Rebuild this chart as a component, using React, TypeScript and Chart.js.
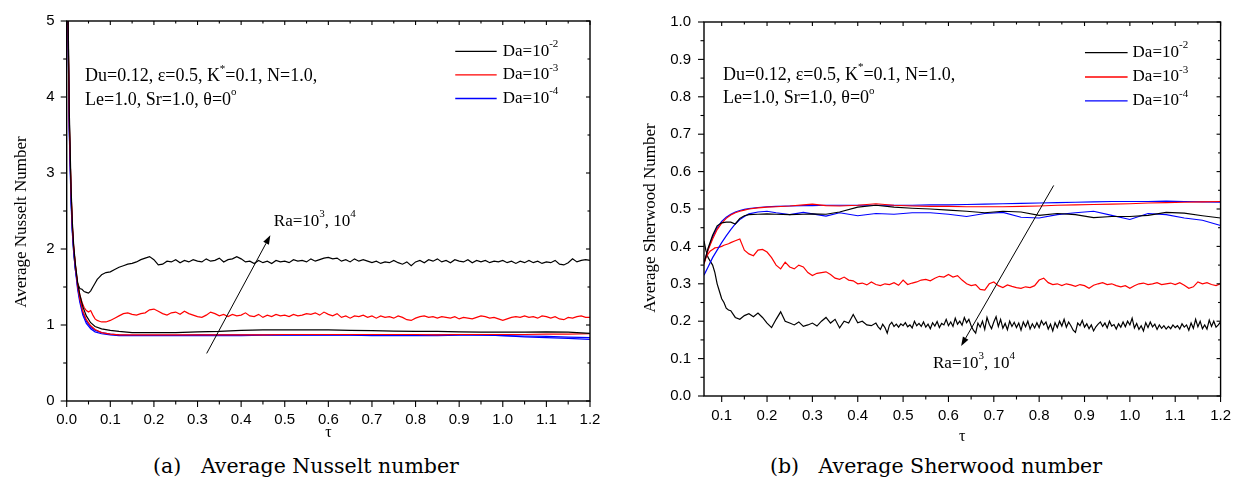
import React, { useEffect, useRef } from 'react';
import { Chart, registerables } from 'chart.js';
Chart.register(...registerables);

// ===================== Panel (a): Average Nusselt number =====================
const NU_T_FINE = [
  0, 0.003, 0.006, 0.01, 0.013, 0.016, 0.02, 0.025, 0.03, 0.035, 0.04, 0.045, 0.05, 0.055, 0.06, 0.065, 0.07, 0.075, 0.08, 0.09, 0.1,
  0.11, 0.12, 0.13, 0.14, 0.15, 0.16, 0.17, 0.18, 0.19, 0.2,
  0.21, 0.22, 0.23, 0.24, 0.25, 0.26, 0.27, 0.28, 0.29, 0.3,
  0.31, 0.32, 0.33, 0.34, 0.35, 0.36, 0.37, 0.38, 0.39, 0.4,
  0.41, 0.42, 0.43, 0.44, 0.45, 0.46, 0.47, 0.48, 0.49, 0.5,
  0.51, 0.52, 0.53, 0.54, 0.55, 0.56, 0.57, 0.58, 0.59, 0.6,
  0.61, 0.62, 0.63, 0.64, 0.65, 0.66, 0.67, 0.68, 0.69, 0.7,
  0.71, 0.72, 0.73, 0.74, 0.75, 0.76, 0.77, 0.78, 0.79, 0.8,
  0.81, 0.82, 0.83, 0.84, 0.85, 0.86, 0.87, 0.88, 0.89, 0.9,
  0.91, 0.92, 0.93, 0.94, 0.95, 0.96, 0.97, 0.98, 0.99, 1.0,
  1.01, 1.02, 1.03, 1.04, 1.05, 1.06, 1.07, 1.08, 1.09, 1.1,
  1.11, 1.12, 1.13, 1.14, 1.15, 1.16, 1.17, 1.18, 1.19, 1.2,
];
// Da=10^-2, Ra=10^4 (black, upper)
const NU_DA2_RA4 = [
  6.5, 5.1, 3.7, 2.7, 2.25, 1.95, 1.72, 1.55, 1.48, 1.47, 1.44, 1.43, 1.42, 1.45, 1.5, 1.55, 1.6, 1.63, 1.66, 1.69, 1.7,
  1.73, 1.76, 1.78, 1.8, 1.81, 1.83, 1.86, 1.88, 1.9, 1.86,
  1.79, 1.8, 1.84, 1.83, 1.86, 1.82, 1.85, 1.83, 1.86, 1.84,
  1.83, 1.87, 1.84, 1.85, 1.88, 1.83, 1.86, 1.87, 1.9, 1.87,
  1.83, 1.84, 1.81, 1.85, 1.82, 1.84, 1.81, 1.85, 1.83, 1.84,
  1.82, 1.86, 1.84, 1.85, 1.83, 1.87, 1.84, 1.86, 1.88, 1.89,
  1.87, 1.88, 1.84, 1.86, 1.83, 1.87, 1.84, 1.86, 1.84, 1.82,
  1.84, 1.81, 1.83, 1.82, 1.85, 1.82, 1.8, 1.83, 1.78, 1.83,
  1.85, 1.82, 1.86, 1.84, 1.87, 1.83, 1.85, 1.82, 1.86, 1.84,
  1.83, 1.86, 1.82, 1.85, 1.83, 1.85, 1.82, 1.84, 1.83, 1.85,
  1.82, 1.84, 1.81, 1.84, 1.82, 1.85, 1.82, 1.84, 1.81, 1.83,
  1.82, 1.85, 1.8, 1.79, 1.82, 1.87, 1.83, 1.85, 1.86, 1.85,
];
// Da=10^-3, Ra=10^4 (red, upper)
const NU_DA3_RA4 = [
  6.5, 5.0, 3.6, 2.75, 2.3, 2.02, 1.78, 1.55, 1.4, 1.3, 1.23, 1.19, 1.17, 1.19, 1.13, 1.08, 1.06, 1.05, 1.04, 1.04, 1.06,
  1.09, 1.12, 1.15, 1.16, 1.14, 1.13, 1.15, 1.16, 1.2, 1.21,
  1.18, 1.15, 1.13, 1.16, 1.17, 1.14, 1.18, 1.15, 1.13, 1.11,
  1.1, 1.13, 1.17, 1.15, 1.12, 1.14, 1.11, 1.14, 1.12, 1.13,
  1.16, 1.12, 1.11, 1.14, 1.1, 1.13, 1.11, 1.14, 1.12, 1.13,
  1.11, 1.14, 1.12, 1.13, 1.15, 1.14, 1.16, 1.13, 1.17, 1.14,
  1.12, 1.15, 1.1, 1.12, 1.09, 1.12, 1.11, 1.13, 1.1, 1.12,
  1.09, 1.12, 1.1, 1.11, 1.09, 1.12, 1.1, 1.07, 1.06, 1.09,
  1.11, 1.12, 1.1, 1.11, 1.09, 1.11, 1.1, 1.09, 1.11, 1.08,
  1.1, 1.09, 1.08, 1.1, 1.12, 1.11, 1.09, 1.1, 1.08, 1.06,
  1.08, 1.1, 1.11, 1.1, 1.12, 1.1, 1.11, 1.09, 1.12, 1.11,
  1.09, 1.11, 1.08, 1.07, 1.1, 1.09, 1.11, 1.12, 1.1, 1.1,
];
const NU_T_SMOOTH = [
  0, 0.003, 0.006, 0.01, 0.013, 0.016, 0.02, 0.025, 0.03, 0.037,
  0.045, 0.055, 0.065, 0.08, 0.1, 0.12, 0.15, 0.2, 0.25, 0.3,
  0.35, 0.4, 0.45, 0.5, 0.55, 0.6, 0.65, 0.7, 0.75, 0.8,
  0.85, 0.9, 0.95, 1.0, 1.05, 1.1, 1.15, 1.2,
];
// Da=10^-2, Ra=10^3 (black, lower)
const NU_DA2_RA3 = [
  6.5, 5.2, 3.8, 2.8, 2.35, 2.05, 1.8, 1.56, 1.4, 1.24,
  1.12, 1.03, 0.98, 0.95, 0.93, 0.915, 0.9, 0.9, 0.9, 0.91,
  0.915, 0.93, 0.935, 0.935, 0.935, 0.935, 0.93, 0.925, 0.92, 0.915,
  0.915, 0.91, 0.905, 0.905, 0.905, 0.91, 0.905, 0.89,
];
// Da=10^-3, Ra=10^3 (red, lower)
const NU_DA3_RA3 = [
  6.5, 5.0, 3.65, 2.75, 2.3, 2.02, 1.78, 1.52, 1.35, 1.18,
  1.07, 0.99, 0.94, 0.9, 0.88, 0.87, 0.87, 0.87, 0.87, 0.87,
  0.87, 0.87, 0.87, 0.875, 0.875, 0.875, 0.875, 0.875, 0.875, 0.875,
  0.87, 0.875, 0.875, 0.875, 0.875, 0.88, 0.88, 0.885,
];
// Da=10^-4, Ra=10^3 (blue)
const NU_DA4_RA3 = [
  6.5, 4.9, 3.5, 2.6, 2.2, 1.96, 1.72, 1.47, 1.3, 1.13,
  1.02, 0.95, 0.91, 0.885, 0.87, 0.86, 0.86, 0.86, 0.86, 0.86,
  0.86, 0.86, 0.865, 0.865, 0.865, 0.865, 0.865, 0.86, 0.86, 0.86,
  0.86, 0.865, 0.87, 0.86, 0.855, 0.85, 0.84, 0.835,
];
// Da=10^-4, Ra=10^4 (blue)
const NU_DA4_RA4 = [
  6.5, 4.9, 3.55, 2.65, 2.25, 2.0, 1.75, 1.5, 1.33, 1.16,
  1.05, 0.97, 0.93, 0.9, 0.88, 0.87, 0.865, 0.865, 0.865, 0.87,
  0.87, 0.87, 0.87, 0.87, 0.87, 0.87, 0.87, 0.87, 0.865, 0.865,
  0.87, 0.875, 0.87, 0.86, 0.845, 0.835, 0.825, 0.81,
];
const NU_X_TICKS = [0, 0.1, 0.2, 0.3, 0.4, 0.5, 0.6, 0.7, 0.8, 0.9, 1.0, 1.1, 1.2];
const NU_X_MINOR = [0.05, 0.15, 0.25, 0.35, 0.45, 0.55, 0.65, 0.75, 0.85, 0.95, 1.05, 1.15];
const NU_Y_TICKS = [0, 1, 2, 3, 4, 5];
const NU_Y_MINOR = [0.5, 1.5, 2.5, 3.5, 4.5];

// ===================== Panel (b): Average Sherwood number =====================
const SH_T_BLACK = [
  0.061, 0.065, 0.07, 0.075, 0.08, 0.085, 0.09, 0.095, 0.1, 0.105, 0.11, 0.115, 0.12,
  0.13, 0.14, 0.15, 0.16, 0.17, 0.18, 0.19, 0.2,
  0.21, 0.22, 0.23, 0.24, 0.25, 0.26, 0.27, 0.28, 0.29, 0.3,
  0.31, 0.32, 0.33, 0.34, 0.35, 0.36, 0.37, 0.38, 0.39, 0.4,
  0.41, 0.42, 0.43, 0.44,
  0.445, 0.45, 0.455, 0.46, 0.465, 0.47, 0.475, 0.48, 0.485, 0.49,
  0.495, 0.5, 0.505, 0.51, 0.515, 0.52, 0.525, 0.53, 0.535, 0.54,
  0.545, 0.55, 0.555, 0.56, 0.565, 0.57, 0.575, 0.58, 0.585, 0.59,
  0.595, 0.6, 0.605, 0.61, 0.615, 0.62, 0.625, 0.63, 0.635, 0.64,
  0.645, 0.65, 0.655, 0.66, 0.665, 0.67, 0.675, 0.68, 0.685, 0.69,
  0.695, 0.7, 0.705, 0.71, 0.715, 0.72, 0.725, 0.73, 0.735, 0.74,
  0.745, 0.75, 0.755, 0.76, 0.765, 0.77, 0.775, 0.78, 0.785, 0.79,
  0.795, 0.8, 0.805, 0.81, 0.815, 0.82, 0.825, 0.83, 0.835, 0.84,
  0.845, 0.85, 0.855, 0.86, 0.865, 0.87, 0.875, 0.88, 0.885, 0.89,
  0.895, 0.9, 0.905, 0.91, 0.915, 0.92, 0.925, 0.93, 0.935, 0.94,
  0.945, 0.95, 0.955, 0.96, 0.965, 0.97, 0.975, 0.98, 0.985, 0.99,
  0.995, 1.0, 1.005, 1.01, 1.015, 1.02, 1.025, 1.03, 1.035, 1.04,
  1.045, 1.05, 1.055, 1.06, 1.065, 1.07, 1.075, 1.08, 1.085, 1.09,
  1.095, 1.1, 1.105, 1.11, 1.115, 1.12, 1.125, 1.13, 1.135, 1.14,
  1.145, 1.15, 1.155, 1.16, 1.165, 1.17, 1.175, 1.18, 1.185, 1.19,
  1.195, 1.2,
];
// Da=10^-2, Ra=10^4 (black, lower)
const SH_DA2_RA4 = [
  0.415, 0.39, 0.37, 0.36, 0.35, 0.33, 0.3, 0.28, 0.26, 0.25, 0.235, 0.23, 0.228,
  0.21, 0.205, 0.215, 0.22, 0.212, 0.222, 0.21, 0.195,
  0.183, 0.205, 0.225, 0.2, 0.195, 0.19, 0.198, 0.186, 0.19, 0.195,
  0.187, 0.2, 0.21, 0.195, 0.205, 0.182, 0.2, 0.195, 0.218, 0.196,
  0.2, 0.19, 0.188, 0.195,
  0.185, 0.178, 0.192, 0.183, 0.168, 0.19, 0.197, 0.186, 0.192, 0.184,
  0.193, 0.188, 0.196, 0.185, 0.19, 0.182, 0.2, 0.188, 0.194, 0.186,
  0.198, 0.184, 0.192, 0.18, 0.196, 0.187, 0.199, 0.183, 0.194, 0.19,
  0.205, 0.188, 0.198, 0.186, 0.208, 0.192, 0.2, 0.189, 0.21, 0.196,
  0.205, 0.188, 0.176, 0.168, 0.195, 0.184, 0.2, 0.178, 0.21, 0.192,
  0.18, 0.198, 0.212, 0.186, 0.205, 0.181, 0.194, 0.177, 0.2, 0.186,
  0.197, 0.183, 0.195, 0.176, 0.198, 0.185, 0.2, 0.179, 0.193, 0.182,
  0.196, 0.183, 0.201, 0.19, 0.198, 0.179, 0.192, 0.174, 0.196, 0.183,
  0.2, 0.187, 0.205, 0.184, 0.198, 0.188, 0.176, 0.17, 0.195, 0.188,
  0.202, 0.184, 0.193, 0.18, 0.19, 0.174, 0.185, 0.192, 0.198, 0.186,
  0.195, 0.182, 0.2, 0.187, 0.191, 0.179, 0.193, 0.184, 0.198, 0.185,
  0.2, 0.19, 0.208, 0.182, 0.194, 0.178, 0.188, 0.174, 0.196, 0.183,
  0.198, 0.185, 0.192, 0.178, 0.19, 0.181, 0.188, 0.179, 0.186, 0.18,
  0.19, 0.183, 0.188, 0.179, 0.193, 0.184, 0.19, 0.176, 0.195, 0.181,
  0.205, 0.185, 0.2, 0.18, 0.19, 0.179, 0.203, 0.186, 0.2, 0.184,
  0.19, 0.198,
];
const SH_T_FINE = [
  0.061, 0.065, 0.07, 0.075, 0.08, 0.085, 0.09, 0.095, 0.1, 0.105, 0.11, 0.115, 0.12,
  0.13, 0.14, 0.15, 0.16, 0.17, 0.18, 0.19, 0.2,
  0.21, 0.22, 0.23, 0.24, 0.25, 0.26, 0.27, 0.28, 0.29, 0.3,
  0.31, 0.32, 0.33, 0.34, 0.35, 0.36, 0.37, 0.38, 0.39, 0.4,
  0.41, 0.42, 0.43, 0.44, 0.45, 0.46, 0.47, 0.48, 0.49, 0.5,
  0.51, 0.52, 0.53, 0.54, 0.55, 0.56, 0.57, 0.58, 0.59, 0.6,
  0.61, 0.62, 0.63, 0.64, 0.65, 0.66, 0.67, 0.68, 0.69, 0.7,
  0.71, 0.72, 0.73, 0.74, 0.75, 0.76, 0.77, 0.78, 0.79, 0.8,
  0.81, 0.82, 0.83, 0.84, 0.85, 0.86, 0.87, 0.88, 0.89, 0.9,
  0.91, 0.92, 0.93, 0.94, 0.95, 0.96, 0.97, 0.98, 0.99, 1.0,
  1.01, 1.02, 1.03, 1.04, 1.05, 1.06, 1.07, 1.08, 1.09, 1.1,
  1.11, 1.12, 1.13, 1.14, 1.15, 1.16, 1.17, 1.18, 1.19, 1.2,
];
// Da=10^-3, Ra=10^4 (red, lower)
const SH_DA3_RA4 = [
  0.358, 0.37, 0.38, 0.388, 0.392, 0.396, 0.397, 0.398, 0.4, 0.403, 0.405, 0.407, 0.41,
  0.415, 0.42, 0.39, 0.38, 0.375, 0.39, 0.392, 0.385,
  0.37, 0.35, 0.34, 0.358, 0.345, 0.34, 0.35, 0.345, 0.33, 0.322,
  0.328, 0.33, 0.332, 0.325, 0.315, 0.312, 0.318, 0.31, 0.308, 0.3,
  0.302, 0.297, 0.305, 0.298, 0.295, 0.3, 0.298, 0.303, 0.296, 0.31,
  0.298, 0.302, 0.305, 0.31, 0.312, 0.308, 0.315, 0.32, 0.318, 0.325,
  0.318, 0.322, 0.31, 0.3, 0.295, 0.298, 0.285, 0.283, 0.3, 0.305,
  0.295, 0.29, 0.297, 0.293, 0.29, 0.288, 0.292, 0.29, 0.295, 0.31,
  0.315, 0.303, 0.298, 0.3, 0.295, 0.3, 0.297, 0.293, 0.298, 0.295,
  0.288, 0.296, 0.3, 0.303, 0.298, 0.3, 0.295, 0.292, 0.295, 0.288,
  0.295, 0.3, 0.302, 0.298, 0.3, 0.303, 0.298, 0.3, 0.302, 0.298,
  0.303, 0.296, 0.288, 0.292, 0.305, 0.3, 0.303, 0.298, 0.295, 0.3,
];
const SH_T_SMOOTH = [
  0.061, 0.07, 0.08, 0.09, 0.1, 0.11, 0.12, 0.13, 0.14, 0.15,
  0.16, 0.18, 0.2, 0.22, 0.25, 0.28, 0.3, 0.33, 0.36, 0.4,
  0.44, 0.48, 0.52, 0.56, 0.6, 0.64, 0.68, 0.72, 0.76, 0.8,
  0.84, 0.88, 0.92, 0.96, 1.0, 1.04, 1.08, 1.12, 1.16, 1.2,
];
// Da=10^-2, Ra=10^3 (black, upper)
const SH_DA2_RA3 = [
  0.355, 0.395, 0.43, 0.455, 0.463, 0.465, 0.465, 0.46, 0.475, 0.482,
  0.485, 0.486, 0.487, 0.486, 0.485, 0.486, 0.487, 0.486, 0.492, 0.505,
  0.51, 0.505, 0.502, 0.5, 0.497, 0.494, 0.49, 0.494, 0.492, 0.483,
  0.488, 0.485, 0.477, 0.48, 0.48, 0.483, 0.491, 0.489, 0.482, 0.476,
];
// Da=10^-3, Ra=10^3 (red, upper)
const SH_DA3_RA3 = [
  0.352, 0.39, 0.42, 0.445, 0.462, 0.475, 0.484, 0.49, 0.494, 0.497,
  0.5, 0.503, 0.505, 0.506, 0.508, 0.511, 0.513, 0.509, 0.508, 0.51,
  0.514, 0.51, 0.508, 0.507, 0.507, 0.506, 0.506, 0.506, 0.507, 0.508,
  0.51, 0.511, 0.512, 0.513, 0.514, 0.516, 0.517, 0.518, 0.519, 0.52,
];
// Da=10^-4, Ra=10^3 (blue, upper)
const SH_DA4_RA3 = [
  0.355, 0.392, 0.425, 0.45, 0.467, 0.478, 0.486, 0.492, 0.496, 0.499,
  0.501, 0.504, 0.506, 0.507, 0.508, 0.509, 0.509, 0.51, 0.51, 0.51,
  0.51, 0.51, 0.51, 0.511, 0.511, 0.512, 0.513, 0.514, 0.515, 0.516,
  0.517, 0.518, 0.519, 0.52, 0.52, 0.52, 0.521, 0.52, 0.519, 0.518,
];
// Da=10^-4, Ra=10^4 (blue, lower)
const SH_DA4_RA4 = [
  0.323, 0.345, 0.37, 0.39, 0.41, 0.428, 0.445, 0.46, 0.472, 0.48,
  0.487, 0.492, 0.494, 0.49, 0.485, 0.491, 0.487, 0.481, 0.49, 0.482,
  0.488, 0.486, 0.49, 0.49, 0.486, 0.48, 0.488, 0.491, 0.478, 0.476,
  0.485, 0.49, 0.494, 0.483, 0.472, 0.488, 0.485, 0.476, 0.47, 0.456,
];
const SH_X_TICKS = [0.1, 0.2, 0.3, 0.4, 0.5, 0.6, 0.7, 0.8, 0.9, 1.0, 1.1, 1.2];
const SH_X_MINOR = [0.15, 0.25, 0.35, 0.45, 0.55, 0.65, 0.75, 0.85, 0.95, 1.05, 1.15];
const SH_Y_TICKS = [0, 0.1, 0.2, 0.3, 0.4, 0.5, 0.6, 0.7, 0.8, 0.9, 1.0];
const SH_Y_MINOR = [0.05, 0.15, 0.25, 0.35, 0.45, 0.55, 0.65, 0.75, 0.85, 0.95];

// Legend / annotation text
const LEGEND_LABELS = [
  [{ t: 'Da=10' }, { t: '-2', sup: true }],
  [{ t: 'Da=10' }, { t: '-3', sup: true }],
  [{ t: 'Da=10' }, { t: '-4', sup: true }],
];
const LEGEND_COLORS = ['#000000', '#ff0000', '#0000ff'];
const PARAM_LINES = [
  [{ t: 'Du=0.12, ε=0.5, K' }, { t: '*', sup: true }, { t: '=0.1, N=1.0,' }],
  [{ t: 'Le=1.0, Sr=1.0, θ=0' }, { t: 'o', sup: true }],
];
const RA_LABEL = [{ t: 'Ra=10' }, { t: '3', sup: true }, { t: ', 10' }, { t: '4', sup: true }];

type Part = { t: string; sup?: boolean };

const SERIF = '"Liberation Serif", "Times New Roman", serif';
const SANS = '"Liberation Sans", Arial, sans-serif';

function drawRich(ctx: CanvasRenderingContext2D, parts: Part[], x: number, y: number, size: number) {
  let cx = x;
  ctx.textAlign = 'left';
  ctx.textBaseline = 'middle';
  for (const p of parts) {
    const s = p.sup ? Math.round(size * 0.62) : size;
    ctx.font = `${s}px ${SERIF}`;
    ctx.fillText(p.t, cx, p.sup ? y - size * 0.42 : y);
    cx += ctx.measureText(p.t).width;
  }
}

type Spec = {
  xMin: number; xMax: number; yMin: number; yMax: number;
  xTicks: number[]; xMinor: number[]; yTicks: number[]; yMinor: number[];
  yDigits: number;
  series: { t: number[]; v: number[]; color: string }[];
  yTitle: string; yTitleX: number; yTitleY: number; tauY: number;
  padding: { left: number; top: number; right: number; bottom: number };
  yWidth: number; xHeight: number; xPad: number; yPad: number;
  paramX: number; paramY: number[];
  legX: number[]; legY: number[];
  raX: number; raY: number;
  arrow: number[];
};

const NU_SPEC: Spec = {
  xMin: 0, xMax: 1.2, yMin: 0, yMax: 5,
  xTicks: NU_X_TICKS, xMinor: NU_X_MINOR, yTicks: NU_Y_TICKS, yMinor: NU_Y_MINOR,
  yDigits: 0,
  series: [
    { t: NU_T_SMOOTH, v: NU_DA2_RA3, color: '#000000' },
    { t: NU_T_SMOOTH, v: NU_DA3_RA3, color: '#ff0000' },
    { t: NU_T_SMOOTH, v: NU_DA4_RA3, color: '#0000ff' },
    { t: NU_T_SMOOTH, v: NU_DA4_RA4, color: '#0000ff' },
    { t: NU_T_FINE, v: NU_DA3_RA4, color: '#ff0000' },
    { t: NU_T_FINE, v: NU_DA2_RA4, color: '#000000' },
  ],
  yTitle: 'Average Nusselt Number', yTitleX: 22, yTitleY: 222, tauY: 433,
  padding: { left: 0, top: 16.5, right: 31, bottom: 0 },
  yWidth: 66.7, xHeight: 44, xPad: 10, yPad: 12,
  paramX: 0.042, paramY: [4.27, 3.96],
  legX: [0.891, 0.986, 1.0], legY: [4.6, 4.29, 3.98],
  raX: 0.475, raY: 2.36,
  arrow: [0.321, 0.626, 0.467, 2.18],
};

const SH_SPEC: Spec = {
  xMin: 0.061, xMax: 1.2, yMin: 0, yMax: 1.0,
  xTicks: SH_X_TICKS, xMinor: SH_X_MINOR, yTicks: SH_Y_TICKS, yMinor: SH_Y_MINOR,
  yDigits: 1,
  series: [
    { t: SH_T_SMOOTH, v: SH_DA2_RA3, color: '#000000' },
    { t: SH_T_SMOOTH, v: SH_DA3_RA3, color: '#ff0000' },
    { t: SH_T_SMOOTH, v: SH_DA4_RA3, color: '#0000ff' },
    { t: SH_T_SMOOTH, v: SH_DA4_RA4, color: '#0000ff' },
    { t: SH_T_FINE, v: SH_DA3_RA4, color: '#ff0000' },
    { t: SH_T_BLACK, v: SH_DA2_RA4, color: '#000000' },
  ],
  yTitle: 'Average Sherwood Number', yTitleX: 29.5, yTitleY: 218, tauY: 437,
  padding: { left: 0, top: 16, right: 20, bottom: 0 },
  yWidth: 83, xHeight: 49, xPad: 11, yPad: 13,
  paramX: 0.103, paramY: [0.858, 0.795],
  legX: [0.901, 0.995, 1.006], legY: [0.918, 0.853, 0.789],
  raX: 0.566, raY: 0.088,
  arrow: [0.832, 0.563, 0.628, 0.134],
};

function makeDecor(spec: Spec) {
  return {
    id: 'decor',
    afterDatasetsDraw(chart: any) {
      const ctx: CanvasRenderingContext2D = chart.ctx;
      const { left, right, top, bottom } = chart.chartArea;
      const xs = chart.scales.x;
      const ys = chart.scales.y;
      const X = (v: number) => xs.getPixelForValue(v);
      const Y = (v: number) => ys.getPixelForValue(v);
      ctx.save();
      ctx.strokeStyle = '#000';
      ctx.fillStyle = '#000';
      ctx.lineWidth = 1.4;
      ctx.strokeRect(left, top, right - left, bottom - top);
      ctx.lineWidth = 1.1;
      const seg = (x1: number, y1: number, x2: number, y2: number) => {
        ctx.beginPath(); ctx.moveTo(x1, y1); ctx.lineTo(x2, y2); ctx.stroke();
      };
      const MAJ = 6, MIN = 3.5;
      spec.xTicks.forEach((v) => { const p = X(v); seg(p, bottom, p, bottom + MAJ); seg(p, top, p, top + 4); });
      spec.xMinor.forEach((v) => { const p = X(v); seg(p, bottom, p, bottom + MIN); seg(p, top, p, top + 2.5); });
      spec.yTicks.forEach((v) => { const p = Y(v); seg(left - MAJ, p, left, p); seg(right, p, right - 4, p); });
      spec.yMinor.forEach((v) => { const p = Y(v); seg(left - MIN, p, left, p); seg(right, p, right - 2.5, p); });

      // axis titles
      ctx.font = `17px ${SERIF}`;
      ctx.textAlign = 'center';
      ctx.textBaseline = 'middle';
      ctx.save();
      ctx.translate(spec.yTitleX, spec.yTitleY);
      ctx.rotate(-Math.PI / 2);
      ctx.fillText(spec.yTitle, 0, 0);
      ctx.restore();
      ctx.font = `16px ${SERIF}`;
      ctx.fillText('τ', (left + right) / 2, spec.tauY);

      // parameter text
      PARAM_LINES.forEach((parts, i) => drawRich(ctx, parts, X(spec.paramX), Y(spec.paramY[i]), 18));

      // legend
      LEGEND_LABELS.forEach((parts, i) => {
        const yy = Y(spec.legY[i]);
        ctx.strokeStyle = LEGEND_COLORS[i];
        ctx.lineWidth = 1.3;
        seg(X(spec.legX[0]), yy, X(spec.legX[1]), yy);
        ctx.fillStyle = '#000';
        drawRich(ctx, parts, X(spec.legX[2]), yy, 17);
      });

      // arrow
      const [ax1, ay1, ax2, ay2] = spec.arrow;
      const x1 = X(ax1), y1 = Y(ay1), x2 = X(ax2), y2 = Y(ay2);
      ctx.strokeStyle = '#000';
      ctx.lineWidth = 1;
      const ang = Math.atan2(y2 - y1, x2 - x1);
      const hl = 9, hw = 3.2;
      const bx = x2 - hl * Math.cos(ang), by = y2 - hl * Math.sin(ang);
      seg(x1, y1, bx, by);
      ctx.beginPath();
      ctx.moveTo(x2, y2);
      ctx.lineTo(bx + hw * Math.sin(ang), by - hw * Math.cos(ang));
      ctx.lineTo(bx - hw * Math.sin(ang), by + hw * Math.cos(ang));
      ctx.closePath();
      ctx.fill();

      drawRich(ctx, RA_LABEL, X(spec.raX), Y(spec.raY), 17);
      ctx.restore();
    },
  };
}

function Panel({ spec, left }: { spec: Spec; left: number }) {
  const ref = useRef<HTMLCanvasElement>(null);
  useEffect(() => {
    if (!ref.current) return;
    const chart = new Chart(ref.current, {
      type: 'line',
      data: {
        datasets: spec.series.map((s) => ({
          data: s.t.map((x, i) => ({ x, y: s.v[i] })),
          borderColor: s.color,
          borderWidth: 1.2,
          pointRadius: 0,
          fill: false,
          tension: 0,
        })),
      },
      options: {
        animation: false,
        responsive: false,
        maintainAspectRatio: false,
        events: [],
        layout: { padding: spec.padding },
        plugins: { legend: { display: false }, tooltip: { enabled: false }, title: { display: false } },
        scales: {
          x: {
            type: 'linear',
            min: spec.xMin,
            max: spec.xMax,
            grid: { display: false, drawTicks: false },
            border: { display: false },
            ticks: {
              autoSkip: false,
              maxRotation: 0,
              padding: spec.xPad,
              color: '#000',
              font: { family: SANS, size: 15 },
              callback: (v: any) => Number(v).toFixed(1),
            },
            afterBuildTicks: (s: any) => { s.ticks = spec.xTicks.map((value) => ({ value })); },
            afterFit: (s: any) => { s.height = spec.xHeight; },
          },
          y: {
            type: 'linear',
            min: spec.yMin,
            max: spec.yMax,
            grid: { display: false, drawTicks: false },
            border: { display: false },
            ticks: {
              autoSkip: false,
              padding: spec.yPad,
              color: '#000',
              font: { family: SANS, size: 15 },
              callback: (v: any) => Number(v).toFixed(spec.yDigits),
            },
            afterBuildTicks: (s: any) => { s.ticks = spec.yTicks.map((value) => ({ value })); },
            afterFit: (s: any) => { s.width = spec.yWidth; },
          },
        },
      } as any,
      plugins: [makeDecor(spec)],
    });
    return () => chart.destroy();
  }, [spec]);
  return (
    <canvas
      ref={ref}
      width={621}
      height={445}
      style={{ position: 'absolute', left, top: 0, width: 621, height: 445 }}
    />
  );
}

const CAPTION_STYLE: React.CSSProperties = {
  position: 'absolute',
  top: 453,
  fontFamily: '"DejaVu Serif", serif',
  fontSize: 20.5,
  lineHeight: '26px',
  whiteSpace: 'pre',
  color: '#000',
  textAlign: 'center',
  width: 400,
};

export default function App() {
  return (
    <div style={{ position: 'absolute', left: 0, top: 0, width: 1242, height: 485, background: '#fff', overflow: 'hidden' }}>
      <Panel spec={NU_SPEC} left={0} />
      <Panel spec={SH_SPEC} left={621} />
      <div style={{ ...CAPTION_STYLE, left: 306 - 200 }}>{'(a)   Average Nusselt number'}</div>
      <div style={{ ...CAPTION_STYLE, left: 936 - 200 }}>{'(b)   Average Sherwood number'}</div>
    </div>
  );
}
